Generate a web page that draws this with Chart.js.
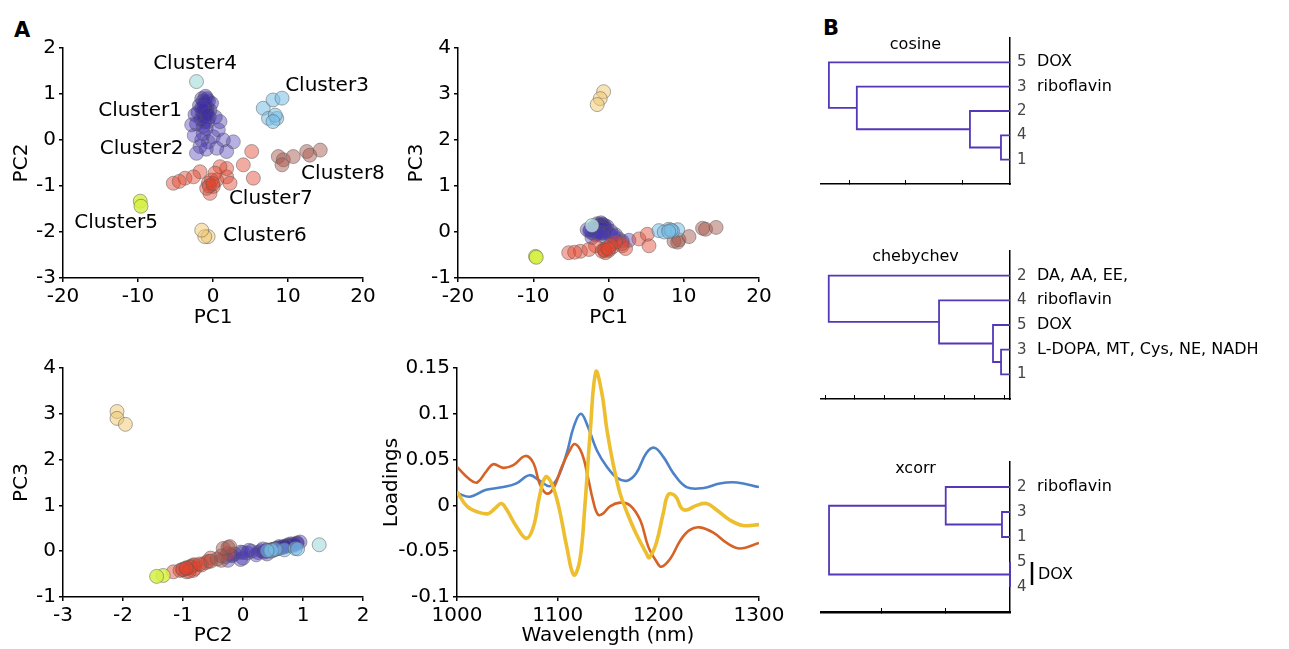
<!DOCTYPE html>
<html><head><meta charset="utf-8">
<script src="https://cdn.jsdelivr.net/npm/chart.js@4/dist/chart.umd.min.js"></script>
<style>
html,body{margin:0;padding:0;background:#fff;}
body{width:1289px;height:649px;position:relative;overflow:hidden;font-family:'DejaVu Sans',sans-serif;}
canvas{position:absolute;}
.lbl{position:absolute;font-weight:bold;font-size:21px;line-height:21px;color:#000;}
</style></head><body>
<div class="lbl" style="left:14px;top:20px">A</div>
<div class="lbl" style="left:823px;top:18px">B</div>
<canvas id="p1" width="400" height="320" style="left:0;top:20px"></canvas>
<canvas id="p2" width="400" height="320" style="left:400px;top:20px"></canvas>
<canvas id="p3" width="400" height="309" style="left:0;top:340px"></canvas>
<canvas id="p4" width="430" height="309" style="left:370px;top:340px"></canvas>
<canvas id="d1" width="489" height="180" style="left:800px;top:20px"></canvas>
<canvas id="d2" width="489" height="220" style="left:800px;top:200px"></canvas>
<canvas id="d3" width="489" height="229" style="left:800px;top:420px"></canvas>
<script>
// ---------- DATA: PCA scores, each point [PC1, PC2, PC3] ----------
const cluster1 = [[-1.5,0.90,0.18],[-1.0,0.95,0.20],[-0.6,0.85,0.15],[-1.8,0.75,0.12],[-1.2,0.75,0.14],[-0.8,0.70,0.10],[-0.4,0.65,0.08],[-2.0,0.60,0.10],[-1.4,0.60,0.06],[-1.0,0.55,0.05],[-0.5,0.50,0.04],[-1.6,0.45,0.02],[-1.1,0.40,0.00],[-0.7,0.40,0.03],[-2.2,0.35,-0.02],[-1.3,0.30,0.01],[-0.9,0.25,-0.03],[-1.0,0.65,0.09],[-1.1,0.80,0.16],[-0.9,0.60,0.07],[-1.2,0.50,0.04],[0.3,0.50,0.02],[-2.4,0.55,0.05],[-0.2,0.80,0.12],[-1.3,0.85,0.13],[-0.8,0.90,0.17],[-1.0,0.70,0.11],[-1.2,0.65,0.08],[-1.5,0.70,0.10],[-0.7,0.55,0.06]];
const cluster2 = [[-2.2,-0.29,-0.12],[-1.73,-0.14,-0.06],[-0.62,-0.04,-0.02],[0.49,-0.18,-0.10],[1.38,0.0,-0.15],[1.82,-0.25,-0.20],[2.71,-0.04,-0.18],[-1.29,0.14,0.0],[0.04,0.07,-0.04],[-2.84,0.33,0.05],[0.93,0.40,-0.06],[0.71,0.22,-0.08],[-1.5,0.0,-0.03],[-0.9,-0.2,-0.08],[-2.5,0.1,0.02]];
const cluster3 = [[6.7,0.69,0.03],[8.0,0.87,0.06],[9.2,0.91,0.05],[7.4,0.47,0.0],[8.5,0.47,0.02],[8.3,0.54,0.04],[8.0,0.40,0.01]];
const cluster4 = [[-2.2,1.27,0.14]];
const cluster5 = [[-9.7,-1.33,-0.53],[-9.6,-1.44,-0.55]];
const cluster6 = [[-0.65,-2.1,3.05],[-1.1,-2.1,2.9],[-1.5,-1.96,2.77]];
const cluster7 = [[-5.29,-0.94,-0.45],[-3.73,-0.83,-0.42],[-1.73,-0.69,-0.30],[-0.62,-0.94,-0.38],[0.04,-1.01,-0.40],[-0.4,-1.16,-0.45],[-0.84,-1.05,-0.42],[0.49,-0.87,-0.33],[1.82,-0.80,-0.30],[2.27,-0.94,-0.36],[1.82,-0.62,-0.25],[4.04,-0.54,-0.15],[5.38,-0.83,-0.30],[5.16,-0.25,-0.05],[-2.6,-0.80,-0.38],[0.93,-0.58,-0.22],[-0.2,-0.87,-0.35],[0.27,-0.72,-0.28],[-4.5,-0.90,-0.44],[-0.5,-1.0,-0.40],[0.0,-0.95,-0.37]];
const cluster8 = [[8.71,-0.36,-0.20],[9.38,-0.43,-0.17],[10.7,-0.36,-0.10],[12.5,-0.25,0.08],[12.9,-0.33,0.06],[14.3,-0.22,0.10],[9.2,-0.54,-0.22]];

const clusterNames = ['Cluster1','Cluster2','Cluster3','Cluster4','Cluster5','Cluster6','Cluster7','Cluster8'];
// label anchors in (PC1, PC2) units
const labelPC1 = [-9.73,-9.51,15.2,-2.4,-12.93,6.93,7.7,17.33];
const labelPC2 = [0.63,-0.2,1.18,1.65,-1.8,-2.08,-1.27,-0.73];

// tick labels
const pc1Ticks = [-20,-10,0,10,20];
const pc2TicksY = [-3,-2,-1,0,1,2];
const pc2TicksX = [-3,-2,-1,0,1,2];
const pc3Ticks = [-1,0,1,2,3,4];
const wlTicks = [1000,1100,1200,1300];
const loadTicks = [-0.1,-0.05,0,0.05,0.1,0.15];

// ---------- DATA: loadings ----------
const wlBlue = [1001,1013,1029,1046,1059,1072,1082,1092,1100,1109,1116,1123,1130,1139,1149,1159,1169,1178,1188,1196,1205,1215,1228,1245,1261,1278,1300];
const ldBlue = [0.013,0.0095,0.017,0.020,0.024,0.033,0.027,0.021,0.030,0.057,0.086,0.100,0.086,0.060,0.042,0.030,0.027,0.035,0.057,0.063,0.053,0.035,0.020,0.019,0.024,0.025,0.020];
const wlOrange = [1000,1013,1020,1029,1036,1046,1056,1068,1076,1082,1089,1096,1104,1112,1117,1124,1130,1135,1140,1145,1152,1162,1172,1182,1190,1198,1203,1212,1222,1231,1241,1255,1268,1281,1300];
const ldOrange = [0.042,0.028,0.025,0.037,0.045,0.041,0.044,0.054,0.046,0.024,0.013,0.019,0.042,0.060,0.067,0.057,0.031,0.006,-0.010,-0.009,-0.001,0.003,0.0,-0.016,-0.045,-0.061,-0.067,-0.058,-0.038,-0.027,-0.024,-0.030,-0.041,-0.047,-0.041];
const wlYellow = [1000,1010,1020,1031,1038,1044,1049,1059,1069,1076,1082,1088,1094,1101,1109,1116,1122,1127,1132,1138,1144,1149,1155,1162,1169,1178,1188,1191,1198,1205,1210,1217,1223,1228,1238,1248,1258,1271,1284,1300];
const ldYellow = [0.015,-0.001,-0.007,-0.009,-0.003,0.002,-0.004,-0.023,-0.036,-0.023,0.010,0.031,0.024,-0.001,-0.045,-0.076,-0.060,-0.001,0.075,0.146,0.122,0.082,0.046,0.013,-0.008,-0.031,-0.052,-0.057,-0.041,-0.008,0.012,0.010,-0.003,-0.005,0.000,0.002,-0.005,-0.016,-0.022,-0.021];

// ---------- DATA: dendrograms (leaf order top->bottom, merges [a,b,height]) ----------
const cosineLeaves = ['5','3','2','4','1'];
const cosineMerges = [[4,5,0.062],[3,6,0.172],[2,7,0.573],[1,8,0.672]];
const cosineTicks = [0.2,0.4,0.6];
const cosineGroups = [['DOX',1],['riboflavin',2]];

const chebLeaves = ['2','4','5','3','1'];
const chebMerges = [[4,5,0.55],[3,6,0.685],[2,7,1.59],[1,8,3.44]];
const chebTicks = [0.5,1,1.5,2,2.5,3,3.5];
const chebGroups = [['DA, AA, EE,',1],['riboflavin',2],['DOX',3],['L-DOPA, MT, Cys, NE, NADH',4]];

const xcorrLeaves = ['2','3','1','5','4'];
const xcorrMerges = [[2,3,0.125],[1,6,1.0],[4,5,0.0],[7,8,2.815]];
const xcorrTicks = [1,2];
const xcorrGroups = [['riboflavin',1]];
const xcorrBracket = ['DOX',4,5];

// ---------- STYLE ----------
Chart.defaults.font.family = "'DejaVu Sans', sans-serif";
Chart.defaults.color = '#000';
const FONT = "'DejaVu Sans', sans-serif";
const clusters = [cluster1,cluster2,cluster3,cluster4,cluster5,cluster6,cluster7,cluster8];
const fills = ['rgba(62,42,172,0.42)','rgba(72,55,180,0.40)','rgba(120,190,230,0.55)','rgba(185,228,228,0.8)','rgba(215,240,70,0.85)','rgba(240,200,110,0.5)','rgba(226,68,46,0.45)','rgba(165,85,75,0.48)'];
const drawOrder = [5,4,3,2,7,6,1,0]; // first = on top
const PURPLE = 'rgb(85,55,185)';

function axis(ticksArr, min, max, title, fixed, isX, titlePad) {
  return {
    type:'linear', min:min, max:max,
    afterBuildTicks: s => { s.ticks = ticksArr.map(v => ({value:v})); },
    afterFit: s => { if (isX) s.height = fixed; else s.width = fixed; },
    border:{display:true, color:'#000', width:1.5},
    grid:{display:true, drawOnChartArea:false, drawTicks:true, tickLength:4, color:'#000', lineWidth:1.5},
    ticks:{color:'#000', font:{size:20}, padding:3, autoSkip:false, maxRotation:0, callback:v => String(v)},
    title:{display:true, text:title, color:'#000', font:{size:20}, padding: titlePad}
  };
}
function baseOpts(pad, xs, ys) {
  return {
    animation:false, responsive:false, devicePixelRatio:1, events:[],
    layout:{padding:pad},
    plugins:{legend:{display:false}, tooltip:{enabled:false}},
    scales:{x:xs, y:ys}
  };
}
function scatterSets(xi, yi) {
  return drawOrder.map(k => ({
    data: clusters[k].map(p => ({x:p[xi], y:p[yi]})),
    backgroundColor: fills[k], borderColor:'rgba(90,90,90,0.5)', borderWidth:1,
    pointRadius:7, clip:false
  }));
}
const clusterLabelPlugin = {
  id:'clusterLabels',
  afterDatasetsDraw(chart) {
    const {ctx, scales:{x, y}} = chart;
    ctx.save();
    ctx.font = '20px ' + FONT; ctx.fillStyle = '#000';
    ctx.textAlign = 'center'; ctx.textBaseline = 'middle';
    clusterNames.forEach((n, i) => ctx.fillText(n, x.getPixelForValue(labelPC1[i]), y.getPixelForValue(labelPC2[i])));
    ctx.restore();
  }
};

// Panel A1: PC1 vs PC2
new Chart(document.getElementById('p1'), {
  type:'scatter', data:{datasets:scatterSets(0,1)},
  options: baseOpts({left:0, top:28, right:37, bottom:0},
    axis(pc1Ticks,-20,20,'PC1',62,true,{top:0,bottom:10}),
    axis(pc2TicksY,-3,2,'PC2',63,false,{top:10,bottom:0})),
  plugins:[clusterLabelPlugin]
});
// Panel A2: PC1 vs PC3
new Chart(document.getElementById('p2'), {
  type:'scatter', data:{datasets:scatterSets(0,2)},
  options: baseOpts({left:0, top:28, right:41, bottom:0},
    axis(pc1Ticks,-20,20,'PC1',62,true,{top:0,bottom:10}),
    axis(pc3Ticks,-1,4,'PC3',58,false,{top:5,bottom:0}))
});
// Panel A3: PC2 vs PC3
new Chart(document.getElementById('p3'), {
  type:'scatter', data:{datasets:scatterSets(1,2)},
  options: baseOpts({left:0, top:28, right:37, bottom:0},
    axis(pc2TicksX,-3,2,'PC2',52,true,{top:0,bottom:1}),
    axis(pc3Ticks,-1,4,'PC3',63,false,{top:10,bottom:0}))
});
// Panel A4: loadings
function lineSet(wl, ld, color, w) {
  return {data: wl.map((v,i) => ({x:v, y:ld[i]})), showLine:true, borderColor:color, borderWidth:w, pointRadius:0, tension:0.4, fill:false};
}
new Chart(document.getElementById('p4'), {
  type:'scatter',
  data:{datasets:[
    lineSet(wlYellow, ldYellow, 'rgb(236,190,48)', 3.6),
    lineSet(wlOrange, ldOrange, 'rgb(214,98,38)', 2.6),
    lineSet(wlBlue, ldBlue, 'rgb(76,130,200)', 2.6)
  ]},
  options: baseOpts({left:0, top:28, right:41, bottom:0},
    axis(wlTicks,1000,1300,'Wavelength (nm)',52,true,{top:0,bottom:1}),
    axis(loadTicks,-0.1,0.15,'Loadings',87,false,{top:10,bottom:0}))
});

// ---------- Dendrograms ----------
function buildLinks(merges, n, minH) {
  const nodes = [];
  for (let i = 1; i <= n; i++) nodes[i] = {h:minH, y:i};
  const links = [];
  merges.forEach((m, k) => {
    const a = nodes[m[0]], b = nodes[m[1]], H = Math.max(m[2], minH);
    links.push([{x:a.h,y:a.y},{x:H,y:a.y},{x:H,y:b.y},{x:b.h,y:b.y}]);
    nodes[n + 1 + k] = {h:H, y:(a.y + b.y) / 2};
  });
  return links;
}
function makeDendro(id, c) {
  const links = buildLinks(c.merges, c.leaves.length, c.min);
  const plug = {
    id:'dendroText',
    afterDatasetsDraw(chart) {
      const {ctx, chartArea:ca, scales:{y}} = chart;
      ctx.save();
      ctx.fillStyle = '#000';
      ctx.font = '16px ' + FONT; ctx.textAlign = 'center'; ctx.textBaseline = 'middle';
      ctx.fillText(c.title, (ca.left + ca.right) / 2, ca.top + c.titleDy);
      ctx.textAlign = 'left';
      c.groups.forEach(g => ctx.fillText(g[0], ca.right + 27, y.getPixelForValue(g[1])));
      if (c.bracket) {
        const y1 = y.getPixelForValue(c.bracket[1]), y2 = y.getPixelForValue(c.bracket[2]);
        ctx.strokeStyle = '#000'; ctx.lineWidth = 2.5;
        ctx.beginPath(); ctx.moveTo(ca.right + 22, y1); ctx.lineTo(ca.right + 22, y2 - 2); ctx.stroke();
        ctx.fillText(c.bracket[0], ca.right + 28, (y1 + y2) / 2);
      }
      ctx.restore();
    }
  };
  new Chart(document.getElementById(id), {
    type:'scatter',
    data:{datasets: links.map(l => ({data:l, showLine:true, borderColor:PURPLE, borderWidth:1.8, pointRadius:0, tension:0, clip:false}))},
    options:{
      animation:false, responsive:false, devicePixelRatio:1, events:[],
      layout:{padding:{left:21, top:c.padTop, right:0, bottom:0}},
      plugins:{legend:{display:false}, tooltip:{enabled:false}},
      scales:{
        x:{type:'linear', reverse:true, min:c.min, max:c.max,
           afterBuildTicks: s => { s.ticks = c.ticks.map(v => ({value:v})); },
           afterFit: s => { s.height = c.xh; },
           border:{display:true, color:'#000', width:c.axisW},
           grid:{display:true, drawOnChartArea:false, drawTicks:true, tickLength:-4, color:'#000', lineWidth:1},
           ticks:{display:false}},
        y:{type:'linear', position:'right', reverse:true, min:0, max:c.leaves.length + 1,
           afterBuildTicks: s => { s.ticks = c.leaves.map((_, i) => ({value:i + 1})); },
           afterFit: s => { s.width = 279; },
           border:{display:true, color:'#000', width:1.5},
           grid:{display:false, drawTicks:false, tickLength:0},
           ticks:{display:true, color:'#444', font:{size:15}, padding:7, autoSkip:false, callback:(v, i) => c.leaves[i]}}
      }
    },
    plugins:[plug]
  });
}
makeDendro('d1', {leaves:cosineLeaves, merges:cosineMerges, ticks:cosineTicks, groups:cosineGroups, min:0.03, max:0.70, padTop:18, xh:14, axisW:1.5, title:'cosine', titleDy:7});
makeDendro('d2', {leaves:chebLeaves, merges:chebMerges, ticks:chebTicks, groups:chebGroups, min:0.4, max:3.57, padTop:51, xh:21, axisW:1.5, title:'chebychev', titleDy:6});
makeDendro('d3', {leaves:xcorrLeaves, merges:xcorrMerges, ticks:xcorrTicks, groups:xcorrGroups, bracket:xcorrBracket, min:0, max:2.94, padTop:42, xh:37, axisW:2.5, title:'xcorr', titleDy:7});
</script>
</body></html>
